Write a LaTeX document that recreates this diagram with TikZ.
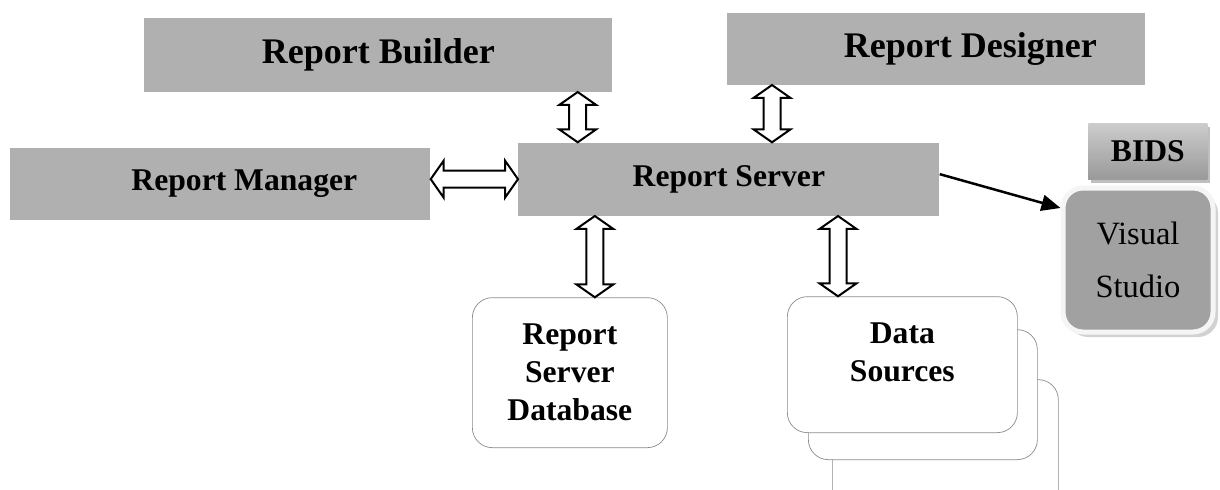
\documentclass[tikz,border=0pt]{standalone}
\usepackage{fontspec}
\setmainfont{Liberation Serif}
\usetikzlibrary{calc,shapes.arrows,shadows,arrows.meta}

% hollow two-headed arrow between two points
\newcommand{\fatlink}[2]{%
	\path let \p1=#1, \p2=#2, \n1={atan2(\y2-\y1,\x2-\x1)}, \n2={veclen(\x2-\x1,\y2-\y1)} in
		node[fatarrow, minimum height=\n2, rotate=\n1] at ($(\p1)!0.5!(\p2)$) {};}

\begin{document}
\begin{tikzpicture}[
		graybox/.style={fill=black!31, anchor=south west, font=\fontsize{18}{21.6}\selectfont\bfseries},
		sourcebox/.style={draw=black!45, fill=white, rounded corners=0.4cm, anchor=south west, align=center, font=\fontsize{18}{21.6}\selectfont\bfseries},
		fatarrow/.style={double arrow, draw, fill=white, line width=0.04cm, double arrow head extend=0.2cm, double arrow tip angle=110, inner xsep=0pt, inner ysep=0.15cm, outer sep=0pt}]
		\useasboundingbox (0,0) rectangle (24.4,-9.78);

		\coordinate (builder)  at (2.88,  -1.84);
		\coordinate (designer) at (14.54, -1.70);
		\coordinate (manager)  at (0.2,   -4.4);
		\coordinate (server)   at (10.36, -4.32);
		\coordinate (bids)     at (21.76, -3.6);
		\coordinate (studio)   at (21.21, -6.69);
		\coordinate (database) at (9.44,  -8.96);
		\coordinate (source1)  at (15.74, -8.66);
		\coordinate (source2)  at (16.16, -9.2);
		\coordinate (source3)  at (16.64, -10.32);

		\node[graybox, minimum width=9.36cm, minimum height=1.48cm, font=\fontsize{20.5}{24}\selectfont\bfseries] (RB) at (builder) {Report Builder};
		\node[graybox, minimum width=8.36cm, minimum height=1.44cm, font=\fontsize{20.5}{24}\selectfont\bfseries] (RD) at (designer) {\hspace*{1.36cm}Report Designer};
		\node[graybox, minimum width=8.4cm, minimum height=1.44cm] (RM) at (manager) {\hspace*{0.96cm}Report Manager};
		\node[graybox, minimum width=8.42cm, minimum height=1.46cm] (RS) at (server) {Report Server};
		\node[graybox, top color=black!20, bottom color=black!40, minimum width=2.38cm, minimum height=1.12cm, drop shadow={shadow xshift=0.06cm, shadow yshift=-0.06cm, fill=black!50}] (BIDS) at (bids) {BIDS};
		\node[fill=black!37, draw=black!4, line width=0.1cm, rounded corners=0.4cm, minimum width=3cm, minimum height=2.88cm, anchor=south west, align=center, font=\fontsize{18.5}{30}\selectfont, drop shadow={shadow xshift=0.1cm, shadow yshift=-0.1cm, fill=black!35}] (VS) at (studio) {Visual\\Studio};

		\node[sourcebox, minimum width=4.52cm, minimum height=2.72cm] (DS3) at (source3) {};
		\node[sourcebox, minimum width=4.58cm, minimum height=2.6cm] (DS2) at (source2) {};
		\node[sourcebox, minimum width=4.6cm, minimum height=2.72cm, text depth=0.5cm] (DS1) at (source1) {Data\\Sources};
		\node[sourcebox, minimum width=3.9cm, minimum height=3cm] (DB) at (database) {Report\\Server\\Database};

		\coordinate (RBlink) at ($(RB.south east)+(-0.7, 0)$);
		\coordinate (RDlink) at ($(RD.south west)+(0.9, 0)$);
		\coordinate (DBlink) at ($(DB.north)+(0.5, 0)$);
		\coordinate (DSlink) at ($(DS1.north west)+(1.02, 0)$);

		\fatlink{(RBlink)}{(RBlink |- RS.north)}
		\fatlink{(RDlink)}{(RDlink |- RS.north)}
		\fatlink{(RS.west -| RM.east)}{(RS.west)}
		\fatlink{(DBlink |- RS.south)}{(DBlink)}
		\fatlink{(DSlink |- RS.south)}{(DSlink)}
		\draw[line width=0.05cm, -{Triangle[length=0.38cm, width=0.32cm]}] ($(RS.east)+(0, 0.1)$) -- ($(VS.north west)+(0, -0.45)$);
	\end{tikzpicture}
\end{document}
